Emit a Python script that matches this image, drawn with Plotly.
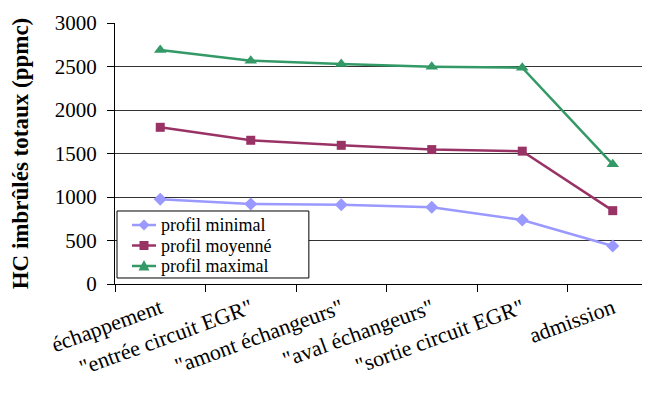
import plotly.graph_objects as go

categories = ["échappement", "\"entrée circuit EGR\"", "\"amont échangeurs\"",
              "\"aval échangeurs\"", "\"sortie circuit EGR\"", "admission"]
profil_minimal = [973, 920, 911, 882, 736, 437]
profil_moyenne = [1801, 1652, 1594, 1545, 1527, 843]
profil_maximal = [2690, 2567, 2529, 2498, 2486, 1376]
y_ticks = [0, 500, 1000, 1500, 2000, 2500, 3000]

series_names = ["profil minimal", "profil moyenné", "profil maximal"]
series_values = [profil_minimal, profil_moyenne, profil_maximal]
series_colors = ["#9999FF", "#993366", "#339966"]
series_symbols = ["diamond", "square", "triangle-up"]
series_sizes = [10, 9, 11]

font_family = "Liberation Serif"

fig = go.Figure()
for name, vals, col, sym, sz in zip(series_names, series_values, series_colors,
                                    series_symbols, series_sizes):
    fig.add_trace(go.Scatter(x=categories, y=vals, name=name,
                             mode="lines+markers", showlegend=False,
                             line=dict(color=col, width=2.5),
                             marker=dict(symbol=sym, size=sz, color=col)))

# ---- legend box drawn as layout decorations (compact rows like the original)
shapes = [dict(type="rect", xref="paper", yref="paper",
               x0=0.0037, x1=0.357, y0=0.023, y1=0.2797,
               fillcolor="white", line=dict(color="black", width=1), layer="above")]
annotations = []
row_y = [0.226, 0.1475, 0.069]
marker_paths = [
    "M0,5.5 L5.5,0 L0,-5.5 L-5.5,0 Z",
    "M-4.5,-4.5 L4.5,-4.5 L4.5,4.5 L-4.5,4.5 Z",
    "M-5.5,-4.5 L5.5,-4.5 L0,6 Z",
]
for name, col, ry, path in zip(series_names, series_colors, row_y, marker_paths):
    shapes.append(dict(type="line", xref="paper", yref="paper",
                       x0=0.0313, x1=0.0755, y0=ry, y1=ry,
                       line=dict(color=col, width=2.5), layer="above"))
    shapes.append(dict(type="path", xref="paper", yref="paper",
                       xsizemode="pixel", ysizemode="pixel",
                       xanchor=0.0534, yanchor=ry, path=path,
                       fillcolor=col, line=dict(width=0), layer="above"))
    annotations.append(dict(text=name, xref="paper", yref="paper",
                            x=0.0829, y=ry, xanchor="left", yanchor="middle",
                            showarrow=False, borderpad=0,
                            font=dict(size=18, family=font_family, color="black")))

fig.update_layout(
    width=650, height=398,
    margin=dict(l=107, r=0, t=15, b=122),
    paper_bgcolor="white", plot_bgcolor="white",
    font=dict(family=font_family, color="black", size=18),
    showlegend=False,
    shapes=shapes, annotations=annotations,
    xaxis=dict(type="category", range=[-0.5, 5.5], automargin=False,
               showline=True, linecolor="black", linewidth=1,
               ticks="outside", ticklen=7, tickcolor="black",
               tickson="boundaries", showgrid=False,
               tickangle=-20, ticklabelstandoff=2,
               tickfont=dict(size=22, family=font_family, color="black")),
    yaxis=dict(range=[0, 3000], tickvals=y_ticks, automargin=False,
               showline=True, linecolor="black", linewidth=1,
               ticks="outside", ticklen=7, tickcolor="black",
               ticklabelstandoff=6,
               showgrid=True, gridcolor="#333333", gridwidth=1,
               zeroline=False,
               tickfont=dict(size=21, family=font_family, color="black"),
               title=dict(text="<b>HC imbrûlés totaux (ppmc)</b>",
                          font=dict(size=23, family=font_family, color="black"),
                          standoff=20)),
)

fig.write_html("out.html")
